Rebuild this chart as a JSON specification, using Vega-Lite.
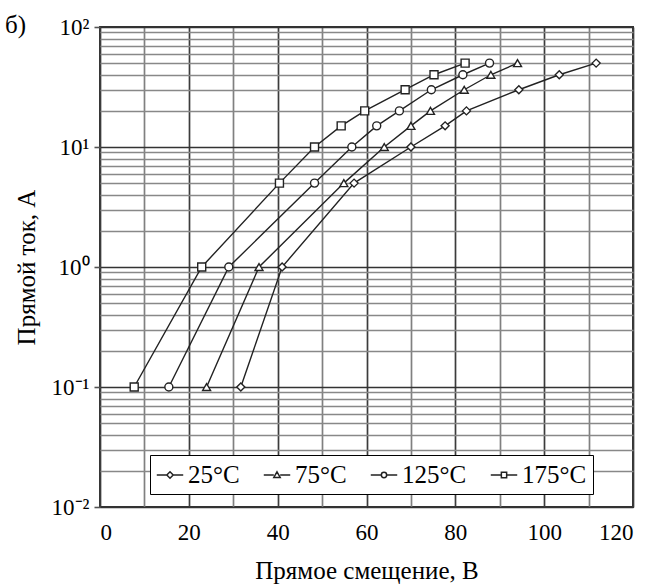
{
  "$schema": "https://vega.github.io/schema/vega-lite/v6.json",
  "autosize": "none",
  "width": 533,
  "height": 480,
  "padding": {"left": 100, "top": 27, "right": 12, "bottom": 78},
  "background": "white",
  "title": {"text": "б)", "anchor": "start", "frame": "group", "dx": -95, "offset": -22, "fontSize": 25, "font": "Liberation Serif", "fontWeight": "normal", "color": "black"},
  "config": {
    "view": {"stroke": "#333", "strokeWidth": 2},
    "font": "Liberation Serif"
  },
  "data": {"values": [
    {"T": "25°C", "V": 31.7, "I": 0.1}, {"T": "25°C", "V": 41.0, "I": 1}, {"T": "25°C", "V": 57.2, "I": 5}, {"T": "25°C", "V": 70.0, "I": 10}, {"T": "25°C", "V": 77.7, "I": 15}, {"T": "25°C", "V": 82.5, "I": 20}, {"T": "25°C", "V": 94.3, "I": 30}, {"T": "25°C", "V": 103.4, "I": 40}, {"T": "25°C", "V": 111.7, "I": 50},
    {"T": "75°C", "V": 24.0, "I": 0.1}, {"T": "75°C", "V": 35.8, "I": 1}, {"T": "75°C", "V": 54.9, "I": 5}, {"T": "75°C", "V": 64.0, "I": 10}, {"T": "75°C", "V": 70.0, "I": 15}, {"T": "75°C", "V": 74.4, "I": 20}, {"T": "75°C", "V": 82.0, "I": 30}, {"T": "75°C", "V": 88.0, "I": 40}, {"T": "75°C", "V": 94.0, "I": 50},
    {"T": "125°C", "V": 15.5, "I": 0.1}, {"T": "125°C", "V": 29.0, "I": 1}, {"T": "125°C", "V": 48.3, "I": 5}, {"T": "125°C", "V": 56.7, "I": 10}, {"T": "125°C", "V": 62.3, "I": 15}, {"T": "125°C", "V": 67.4, "I": 20}, {"T": "125°C", "V": 74.6, "I": 30}, {"T": "125°C", "V": 81.7, "I": 40}, {"T": "125°C", "V": 87.7, "I": 50},
    {"T": "175°C", "V": 7.7, "I": 0.1}, {"T": "175°C", "V": 22.9, "I": 1}, {"T": "175°C", "V": 40.4, "I": 5}, {"T": "175°C", "V": 48.3, "I": 10}, {"T": "175°C", "V": 54.3, "I": 15}, {"T": "175°C", "V": 59.6, "I": 20}, {"T": "175°C", "V": 68.7, "I": 30}, {"T": "175°C", "V": 75.2, "I": 40}, {"T": "175°C", "V": 82.2, "I": 50}
  ]},
  "encoding": {
    "x": {"field": "V", "type": "quantitative",
      "scale": {"domain": [0, 120], "nice": false},
      "axis": {"title": "Прямое смещение, В", "values": [0,10,20,30,40,50,60,70,80,90,100,110,120],
        "labelExpr": "datum.value % 20 === 0 ? datum.label : ''",
        "domain": false, "ticks": false, "labelPadding": 14, "labelFontSize": 23, "labelColor": "black", "labelFont": "Liberation Serif",
        "titleFontSize": 25, "titleFont": "Liberation Serif", "titleFontWeight": "normal", "titleColor": "black", "titlePadding": 14,
        "grid": true,
        "gridColor": {"condition": {"test": "datum.value % 20 === 0", "value": "#3c3c3c"}, "value": "#808080"},
        "gridWidth": 1.7,
        "gridOpacity": 1}},
    "y": {"field": "I", "type": "quantitative",
      "scale": {"type": "log", "domain": [0.01, 100], "nice": false},
      "axis": {"title": "Прямой ток, А",
        "values": [0.01,0.02,0.03,0.04,0.05,0.06,0.07,0.08,0.09,0.1,0.2,0.3,0.4,0.5,0.6,0.7,0.8,0.9,1,2,3,4,5,6,7,8,9,10,20,30,40,50,60,70,80,90,100],
        "labelExpr": "datum.value===100?'10²':datum.value===10?'10¹':datum.value===1?'10⁰':datum.value===0.1?'10⁻¹':datum.value===0.01?'10⁻²':''",
        "domain": false,
        "tickSize": 6,
        "tickColor": {"condition": {"test": "datum.value===100||datum.value===10||datum.value===1||datum.value===0.1||datum.value===0.01", "value": "#555"}, "value": "transparent"},
        "tickWidth": 1.6,
        "labelPadding": 5, "labelFontSize": 23, "labelColor": "black", "labelFont": "Liberation Serif",
        "titleFontSize": 25, "titleFont": "Liberation Serif", "titleFontWeight": "normal", "titleColor": "black", "titlePadding": 12,
        "grid": true,
        "gridColor": {"condition": {"test": "datum.value===100||datum.value===10||datum.value===1||datum.value===0.1||datum.value===0.01", "value": "#333"}, "value": "#888888"},
        "gridWidth": 1.5,
        "gridOpacity": 1}}
  },
  "layer": [
    {"mark": {"type": "line", "color": "#222", "strokeWidth": 1.4},
     "encoding": {"detail": {"field": "T", "type": "nominal"}, "order": {"field": "V", "type": "quantitative"}}},
    {"mark": {"type": "point", "filled": false, "color": "#222", "fill": "white", "strokeWidth": 1.4, "opacity": 1, "size": 64},
     "encoding": {"shape": {"field": "T", "type": "nominal",
        "scale": {"domain": ["25°C", "75°C", "125°C", "175°C"], "range": ["diamond", "triangle-up", "circle", "square"]},
        "legend": null}}},
    {"transform": [{"filter": "false"}],
     "mark": {"type": "point", "filled": false, "color": "#222", "fill": "white", "strokeWidth": 1.4, "opacity": 1},
     "encoding": {"shape": {"field": "T", "type": "nominal",
        "scale": {"domain": ["25°C", "75°C", "125°C", "175°C"],
          "range": ["M-1,0H-0.24M0.24,0H1M0,-0.24L0.24,0L0,0.24L-0.24,0Z", "M-1,0H-0.24M0.24,0H1M0,-0.24L0.24,0.18L-0.24,0.18Z", "M-1,0H-0.2M0.2,0H1M-0.2,0a0.2,0.2 0 1,0 0.4,0a0.2,0.2 0 1,0 -0.4,0Z", "M-1,0H-0.2M0.2,0H1M-0.2,-0.2H0.2V0.2H-0.2Z"]},
        "legend": {"title": null, "orient": "none", "direction": "horizontal", "legendX": 50, "legendY": 428,
          "fillColor": "white", "strokeColor": "black", "padding": 6,
          "labelFontSize": 25, "labelFont": "Liberation Serif", "labelColor": "black", "labelOffset": 4,
          "symbolSize": 700,
          "columnPadding": 20}}}}
  ],
  "resolve": {"scale": {"shape": "independent"}, "legend": {"shape": "independent"}}
}
